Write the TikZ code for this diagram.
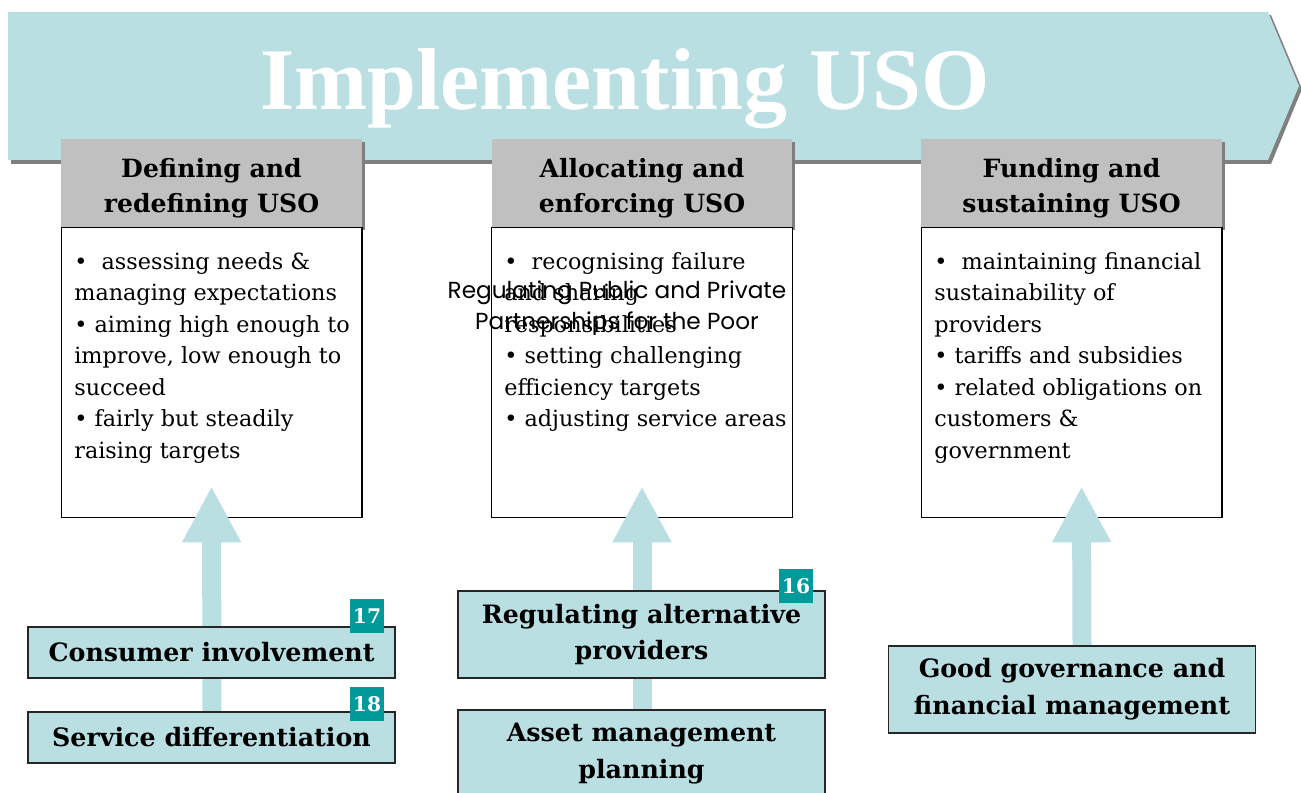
\documentclass[tikz,border=0pt]{standalone}
\usepackage{fontspec}
\setmainfont{DejaVu Serif}
\newfontfamily\titlefont{Liberation Serif}
\newfontfamily\stampfont{Poppins}
\usepackage{tikz}
\usetikzlibrary{positioning,shadows,calc,arrows.meta}
\definecolor{usoBlue}{HTML}{BADFE3}
\definecolor{headGray}{HTML}{C0C0C0}
\definecolor{shadeGray}{HTML}{7F7F7F}
\definecolor{badgeTeal}{HTML}{009A9A}

\begin{document}
\begin{tikzpicture}[x=0.02cm, y=-0.02cm,
  headbox/.style={fill=headGray, minimum width=6.02cm, minimum height=1.76cm, inner sep=0pt,
    drop shadow={shadow xshift=0.06cm, shadow yshift=-0.06cm, fill=shadeGray, opacity=1}},
  headtext/.style={align=center, inner sep=0pt, font=\bfseries\fontsize{14.3}{20.2}\selectfont},
  bodybox/.style={draw=black, line width=0.6pt, fill=white, minimum width=6.02cm, minimum height=5.8cm, inner sep=0pt},
  bodytext/.style={anchor=north west, align=left, inner sep=0pt, font=\fontsize{12.7}{17.9}\selectfont},
  lowbox/.style={draw=black!85, line width=0.8pt, fill=usoBlue, minimum width=7.34cm, inner sep=0pt, align=center,
    font=\bfseries\fontsize{14.4}{21}\selectfont},
  badge/.style={fill=badgeTeal, text=white, minimum size=0.68cm, inner sep=0pt, font=\bfseries\fontsize{11.5}{12}\selectfont},
  uparrow/.style={draw=usoBlue, line width=0.38cm, -{Triangle[width=1.1cm, length=1.12cm]}},
]
  \useasboundingbox (0,0) rectangle (1301,793);

  % big banner arrow
  \fill[shadeGray] (11,15) -- (1271,15) -- (1302,89) -- (1271,164) -- (11,164) -- cycle;
  \fill[usoBlue] (8,12) -- (1268,12) -- (1299,86) -- (1268,160) -- (8,160) -- cycle;
  \node[anchor=base, text=white, font=\titlefont\bfseries\fontsize{50}{50}\selectfont] (title) at (625,110) {Implementing USO};

  % three stages
  \node[headbox] (h1) at (211.5,183) {};
  \node[headbox] (h2) at (642,183) {};
  \node[headbox] (h3) at (1071.5,183) {};
  \node[headtext] (l1) at ([yshift=-3pt]h1.center) {Defining and\\redefining USO};
  \node[headtext] (l2) at ([yshift=-3pt]h2.center) {Allocating and\\enforcing USO};
  \node[headtext] (l3) at ([yshift=-3pt]h3.center) {Funding and\\sustaining USO};

  \node[bodybox, below=0pt of h1] (b1) {};
  \node[bodybox, below=0pt of h2] (b2) {};
  \node[bodybox, below=0pt of h3] (b3) {};

  \node[bodytext] (t1) at (74,252) {\textbullet\ \ assessing needs \&\\managing expectations\\\textbullet\ aiming high enough to\\improve, low enough to\\succeed\\\textbullet\ fairly but steadily\\raising targets};
  \node[bodytext] (t2) at (504,252) {\textbullet\ \ recognising failure\\and sharing\\responsibilities\\\textbullet\ setting challenging\\efficiency targets\\\textbullet\ adjusting service areas};
  \node[bodytext] (t3) at (934,252) {\textbullet\ \ maintaining financial\\sustainability of\\providers\\\textbullet\ tariffs and subsidies\\\textbullet\ related obligations on\\customers \&\\government};

  % supporting activities
  \coordinate (tip1) at ($(b1.south)+(0,-32)$);
  \coordinate (tip2) at ($(b2.south)+(0,-32)$);
  \coordinate (tip3) at ($(b3.south)+(10,-32)$);
  \coordinate (foot1) at (212,712);
  \coordinate (foot2) at (642,710);
  \coordinate (foot3) at (1082,646);
  \draw[uparrow] (foot1) -- (tip1);
  \draw[uparrow] (foot2) -- (tip2);
  \draw[uparrow] (foot3) -- (tip3);

  \node[lowbox, minimum height=1.02cm] (c1) at (211.5,652.5) {Consumer involvement};
  \node[lowbox, minimum height=1.02cm] (c2) at (211.5,737.5) {Service differentiation};
  \node[lowbox, minimum height=1.74cm] (r1) at (641.5,634.5) {Regulating alternative\\providers};
  \node[lowbox, minimum height=1.74cm] (r2) at (641.5,753.5) {Asset management\\planning};
  \node[lowbox, minimum height=1.74cm] (g1) at (1072,689.5) {Good governance and\\financial management};

  \node[badge] (n17) at (367,616) {17};
  \node[badge] (n18) at (367,704) {18};
  \node[badge] (n16) at (796,586) {16};

  % stamp over the middle box
  \node[align=center, inner sep=0pt, font=\stampfont\fontsize{13.2}{17.6}\selectfont] (stamp) at (617,308) {Regulating Public and Private\\Partnerships for the Poor};
\end{tikzpicture}
\end{document}
